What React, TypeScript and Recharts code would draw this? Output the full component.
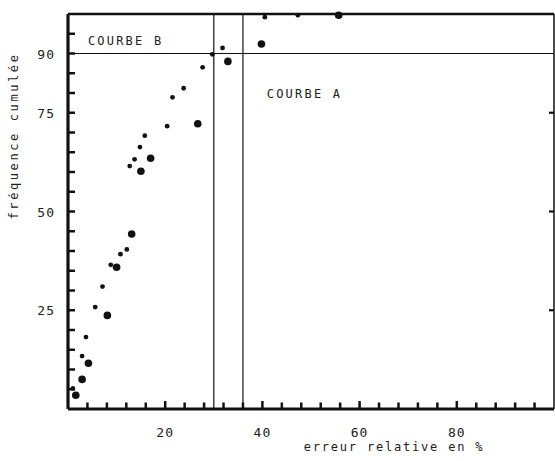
import { ScatterChart, Scatter, XAxis, YAxis, ReferenceLine, ReferenceDot } from "recharts";

// courbe B : petits points, courbe A : gros points
const errB = [1.0, 2.9, 3.7, 5.6, 7.1, 8.8, 10.8, 12.1, 12.7, 13.7, 14.8, 15.8, 20.4, 21.5, 23.8, 27.7, 29.7, 31.8, 40.5, 47.3];
const freqB = [5.2, 13.4, 18.2, 25.8, 31.0, 36.5, 39.2, 40.4, 61.5, 63.2, 66.3, 69.2, 71.6, 78.9, 81.2, 86.5, 89.8, 91.4, 99.2, 99.7];
const errA = [1.6, 2.9, 4.2, 8.1, 10.0, 13.1, 15.0, 17.0, 26.7, 32.9, 39.8, 55.7];
const freqA = [3.5, 7.5, 11.6, 23.7, 35.9, 44.3, 60.2, 63.5, 72.2, 88.0, 92.4, 99.7];

const xTicks = [4, 8, 12, 16, 20, 24, 28, 32, 36, 40, 44, 48, 52, 56, 60, 64, 68, 72, 76, 80, 84, 88, 92, 96];
const xLabels = [20, 40, 60, 80];
const yTicks = [5, 10, 15, 20, 25, 30, 35, 40, 45, 50, 55, 60, 65, 70, 75, 80, 85, 90, 95];
const yLabels = [25, 50, 75, 90];
const topTicks = [20, 40, 60, 80];
const rightTicks = [25, 50, 75];

const seuilFreq = 90;
const seuilB = 30;
const seuilA = 36;

const dataB = errB.map((x, i) => ({ x, y: freqB[i] }));
const dataA = errA.map((x, i) => ({ x, y: freqA[i] }));

const INK = "#111";
const FONT = "DejaVu Sans Mono";

const BottomTick = ({ x, y, payload }: any) => {
  const px = Number(x);
  const py = Number(y);
  const len = payload.value % 20 === 0 ? 8 : 6.5;
  return (
    <g>
      <line x1={px} x2={px} y1={py} y2={py - len} stroke={INK} strokeWidth={2.5} />
      {xLabels.includes(payload.value) && (
        <text x={px} y={py + 28} textAnchor="middle" fontFamily={FONT} fontSize={13} letterSpacing={1} fill="#222">
          {payload.value}
        </text>
      )}
    </g>
  );
};

const LeftTick = ({ x, y, payload }: any) => {
  const px = Number(x);
  const py = Number(y);
  return (
    <g>
      <line x1={px} x2={px + 7} y1={py} y2={py} stroke={INK} strokeWidth={2.5} />
      {yLabels.includes(payload.value) && (
        <text x={px - 13} y={py + 5} textAnchor="end" fontFamily={FONT} fontSize={13} letterSpacing={1} fill="#222">
          {payload.value}
        </text>
      )}
    </g>
  );
};

const TopTick = ({ x, y }: any) => (
  <line x1={Number(x)} x2={Number(x)} y1={Number(y)} y2={Number(y) + 6.5} stroke={INK} strokeWidth={2.5} />
);
const RightTick = ({ x, y }: any) => (
  <line x1={Number(x)} x2={Number(x) - 5} y1={Number(y)} y2={Number(y)} stroke={INK} strokeWidth={2.2} />
);

const small = (p: any) => <circle cx={p.cx} cy={p.cy} r={2.4} fill={INK} />;
const big = (p: any) => <circle cx={p.cx} cy={p.cy} r={3.8} fill={INK} />;

const courbeLabel = (text: string) => (p: any) => {
  const vb = p.viewBox || {};
  const cx = vb.x + (vb.width || 0) / 2;
  const cy = vb.y + (vb.height || 0) / 2;
  return (
    <text x={cx} y={cy} fontFamily={FONT} fontSize={12} letterSpacing={2.2} fill="#222">
      {text}
    </text>
  );
};

export default function App() {
  return (
    <div style={{ position: "absolute", left: 0, top: 0, background: "#fff" }}>
      <ScatterChart width={555} height={461} margin={{ top: 13, right: 0, left: 0, bottom: 0 }}>
        <ReferenceLine y={seuilFreq} stroke={INK} strokeWidth={1.2} />
        <ReferenceLine x={seuilB} stroke={INK} strokeWidth={1.2} />
        <ReferenceLine x={seuilA} stroke={INK} strokeWidth={1.2} />
        <ReferenceDot x={4.1} y={92.2} r={0} stroke="none" fill="none" label={{ content: courbeLabel("COURBE B") }} />
        <ReferenceDot x={40.9} y={78.7} r={0} stroke="none" fill="none" label={{ content: courbeLabel("COURBE A") }} />
        <Scatter name="Courbe B" data={dataB} shape={small} isAnimationActive={false} />
        <Scatter name="Courbe A" data={dataA} shape={big} isAnimationActive={false} />
        <XAxis
          type="number"
          dataKey="x"
          domain={[0, 100]}
          ticks={xTicks}
          interval={0}
          height={52}
          tickSize={0}
          tickMargin={0}
          tickLine={false}
          tick={<BottomTick />}
          axisLine={{ stroke: INK, strokeWidth: 3.2 }}
          label={{
            content: () => (
              <text x={394} y={451} textAnchor="middle" fontFamily={FONT} fontSize={12} letterSpacing={1.8} fill="#222">
                erreur relative en %
              </text>
            ),
          }}
        />
        <XAxis
          xAxisId="top"
          orientation="top"
          type="number"
          domain={[0, 100]}
          allowDataOverflow
          ticks={topTicks}
          interval={0}
          height={1}
          tickSize={0}
          tickMargin={0}
          tickLine={false}
          tick={<TopTick />}
          axisLine={{ stroke: INK, strokeWidth: 2.4 }}
        />
        <YAxis
          type="number"
          dataKey="y"
          domain={[0, 100]}
          ticks={yTicks}
          interval={0}
          width={68}
          tickSize={0}
          tickMargin={0}
          tickLine={false}
          tick={<LeftTick />}
          axisLine={{ stroke: INK, strokeWidth: 3.2 }}
          label={{
            content: () => (
              <text
                x={18}
                y={136}
                transform="rotate(-90 18 136)"
                textAnchor="middle"
                fontFamily={FONT}
                fontSize={12}
                letterSpacing={2.6}
                fill="#222"
              >
                fréquence cumulée
              </text>
            ),
          }}
        />
        <YAxis
          yAxisId="right"
          orientation="right"
          type="number"
          domain={[0, 100]}
          allowDataOverflow
          ticks={rightTicks}
          interval={0}
          width={1}
          tickSize={0}
          tickMargin={0}
          tickLine={false}
          tick={<RightTick />}
          axisLine={{ stroke: INK, strokeWidth: 1.5 }}
        />
      </ScatterChart>
    </div>
  );
}
